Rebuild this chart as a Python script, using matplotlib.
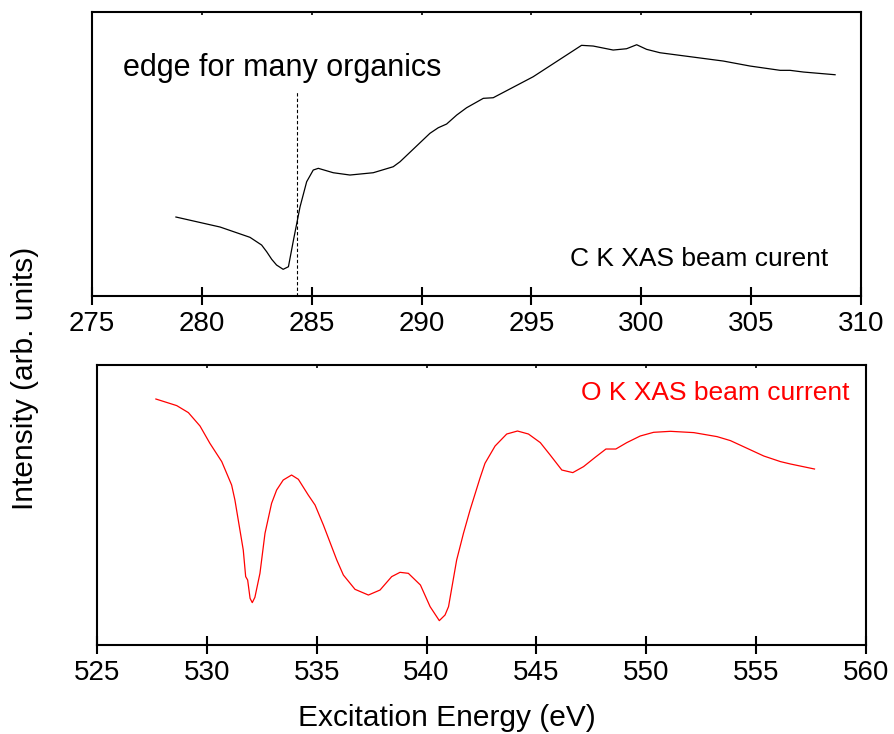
import matplotlib
matplotlib.use('Agg')
import matplotlib.pyplot as plt

plt.rcParams['font.family'] = ['Liberation Sans', 'DejaVu Sans']

# --- C K edge data (arb. units) ---
c_energy = [278.82, 280.83, 282.19, 282.72, 282.95, 283.18, 283.4, 283.7, 283.94,
            284.17, 284.47, 284.77, 285.07, 285.3, 285.98, 286.74, 287.8, 288.71,
            289.02, 290.38, 290.76, 291.14, 291.6, 292.05, 292.81, 293.26, 295.08,
            297.28, 297.81, 298.72, 299.33, 299.79, 300.24, 300.85, 303.73, 304.95,
            306.32, 306.77, 307.38, 308.82]
c_intensity = [79, 69, 58.7, 51, 44.3, 36.7, 31, 26.7, 29.3,
               56, 89.3, 114.3, 126, 127.7, 123.3, 121, 123.3, 129.3,
               134.3, 162.7, 168.3, 172, 181, 188.3, 197.7, 198.3, 219.3,
               250.7, 250, 246, 247.3, 251.3, 246.7, 243.3, 235, 230,
               225.7, 225.7, 224, 221.3]

# --- O K edge data (arb. units) ---
o_energy = [527.67, 528.62, 529.15, 529.68, 530.13, 530.67, 531.12, 531.27, 531.65,
            531.76, 531.85, 531.96, 532.06, 532.18, 532.41, 532.64, 532.94, 533.17,
            533.47, 533.85, 534.16, 534.61, 534.92, 535.3, 535.91, 536.21, 536.74,
            537.35, 537.88, 538.41, 538.79, 539.17, 539.72, 540.16, 540.58, 540.84,
            541.0, 541.37, 541.68, 541.98, 542.43, 542.66, 543.12, 543.65, 544.14,
            544.64, 545.18, 545.63, 546.16, 546.66, 547.15, 547.68, 548.17, 548.62,
            549.12, 549.73, 550.34, 551.11, 552.17, 553.23, 553.84, 554.6, 555.36,
            556.12, 556.58, 557.67]
o_intensity = [246.3, 239.7, 232.7, 219.3, 202, 183.7, 160.3, 145.3, 95.3,
               68.7, 65.3, 47, 42.7, 48, 72, 112, 142, 155.3,
               165.3, 170.3, 166, 150.3, 140.3, 120.3, 85.3, 70.3, 56,
               50.3, 55.3, 68.7, 73, 72, 60.3, 38.7, 24.7, 30.3,
               38.7, 85.3, 112, 135.3, 167, 182, 199.3, 211.3, 214.3,
               211.3, 202.7, 190.3, 175.3, 172.7, 178.7, 188, 196.3, 196.3,
               202.7, 209.3, 213, 214, 212.7, 208.7, 204.7, 197, 189.3,
               183.7, 181.3, 176.3]

edge_energy = 284.32
c_ticks = [275, 280, 285, 290, 295, 300, 305, 310]
o_ticks = [525, 530, 535, 540, 545, 550, 555, 560]

fig = plt.figure(figsize=(8.94, 7.34), dpi=100)
ax1 = fig.add_axes([0.1029, 0.5967, 0.8602, 0.3869])
ax2 = fig.add_axes([0.1088, 0.1208, 0.8595, 0.3815])


def style(ax, ticks):
    for s in ax.spines.values():
        s.set_linewidth(1.5)
    ax.set_xticks(ticks)
    ax.set_yticks([])
    ax.tick_params(axis='x', direction='inout', length=13, width=1.5,
                   labelsize=20, pad=4)
    top = ax.secondary_xaxis('top')
    top.set_xticks(ticks)
    top.tick_params(direction='in', length=2.5, width=1.2, labeltop=False)
    top.spines['top'].set_visible(False)


ax1.plot(c_energy, c_intensity, color='black', lw=0.9)
ax1.set_xlim(275, 310)
ax1.set_ylim(0, 284)
ax1.axvline(edge_energy, ymin=0, ymax=0.718, color='black', lw=0.8,
            linestyle=(0, (3, 2)))
ax1.text(0.04, 0.775, 'edge for many organics', transform=ax1.transAxes,
         fontsize=22, va='baseline', ha='left')
ax1.text(0.9575, 0.106, 'C K XAS beam curent', transform=ax1.transAxes,
         fontsize=19, va='baseline', ha='right')
style(ax1, c_ticks)

ax2.plot(o_energy, o_intensity, color='red', lw=0.9)
ax2.set_xlim(525, 560)
ax2.set_ylim(0, 280)
ax2.text(0.9787, 0.876, 'O K XAS beam current', transform=ax2.transAxes,
         fontsize=19, va='baseline', ha='right', color='red')
style(ax2, o_ticks)

fig.text(0.5, 1 - 726 / 734, 'Excitation Energy (eV)', fontsize=21.5,
         ha='center', va='baseline')
fig.text(25 / 894, 1 - 378 / 734, 'Intensity (arb. units)', fontsize=21.5,
         ha='center', va='center', rotation=90)

fig.savefig('out.png', dpi=100)
